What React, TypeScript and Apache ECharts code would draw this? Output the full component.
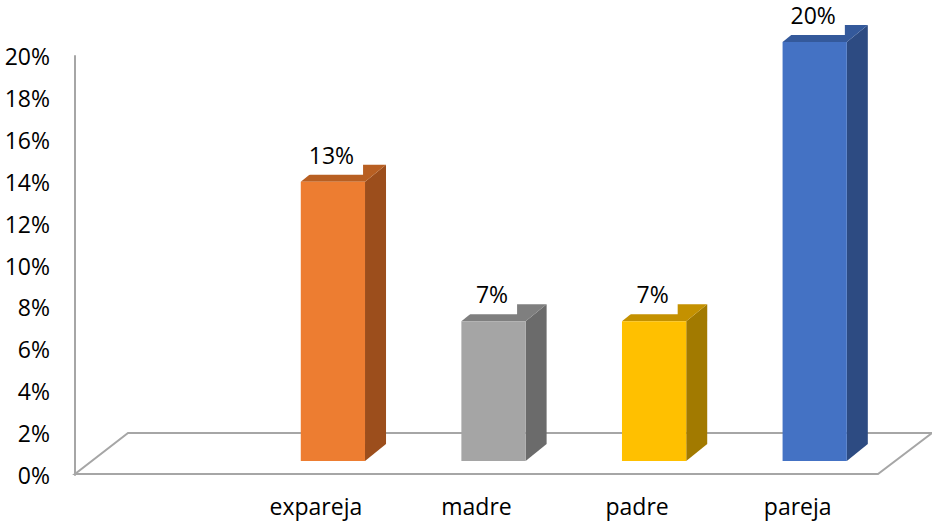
import React, { useEffect, useRef } from "react";
import * as echarts from "echarts";

// ---- data ----
const categories: string[] = ["", "expareja", "madre", "padre", "pareja"];
const values: (number | null)[] = [null, 0.1333, 0.0667, 0.0667, 0.2];
const valueLabels: string[] = ["", "13%", "7%", "7%", "20%"];
const yMin = 0;
const yMax = 0.2;
const yInterval = 0.02;

// ---- styles ----
const frontColors = ["#ED7D31", "#ED7D31", "#A5A5A5", "#FFC000", "#4472C4"];
const topColors = ["#B85F22", "#B85F22", "#7F7F7F", "#C49100", "#34599B"];
const sideColors = ["#9C4E1C", "#9C4E1C", "#6B6B6B", "#A27A00", "#2D4B82"];
const FONT = "'Open Sans', 'Liberation Sans', sans-serif";
const AXIS_GREY = "#A6A6A6";

const W = 932;
const H = 525;
const GRID = { left: 75, right: 54, top: 56, bottom: 50 };
// 3D projection offsets (pixels)
const FLOOR_DX = 54;
const FLOOR_DY = 41;
const FRONT_SHIFT_X = 17;
const FRONT_SHIFT_Y = 14;
const DEPTH_X = 21;
const DEPTH_Y = 17;

export default function App() {
  const ref = useRef<HTMLDivElement>(null);

  useEffect(() => {
    document.body.style.margin = "0";
    if (!ref.current) return;
    const chart = echarts.init(ref.current, undefined, { renderer: "svg" });

    const x0 = GRID.left;
    const x1 = W - GRID.right;
    const y0 = H - GRID.bottom - 1;

    const option: any = {
      animation: false,
      backgroundColor: "#ffffff",
      grid: { ...GRID, containLabel: false },
      xAxis: {
        type: "category",
        data: categories,
        boundaryGap: true,
        axisLine: { show: false },
        axisTick: { show: false },
        axisLabel: {
          margin: 19,
          fontFamily: FONT,
          fontSize: 23,
          color: "#000",
          interval: 0,
        },
      },
      yAxis: {
        type: "value",
        min: yMin,
        max: yMax,
        interval: yInterval,
        axisLine: { show: true, lineStyle: { color: AXIS_GREY, width: 2 } },
        axisTick: { show: false },
        splitLine: { show: false },
        axisLabel: {
          margin: 25,
          fontFamily: FONT,
          fontSize: 23,
          color: "#000",
          formatter: (v: number) => Math.round(v * 100) + "%",
        },
      },
      graphic: [
        {
          type: "polygon",
          z: 0,
          shape: {
            points: [
              [x0, y0],
              [x1, y0],
              [x1 + FLOOR_DX, y0 - FLOOR_DY],
              [x0 + FLOOR_DX - 1, y0 - FLOOR_DY],
            ],
          },
          style: { fill: "none", stroke: AXIS_GREY, lineWidth: 2 },
        },
      ],
      series: [
        {
          type: "custom",
          z: 5,
          data: categories.map((c, i) => [i, values[i]]),
          renderItem: (params: any, api: any) => {
            const v = api.value(1);
            const idx = params.dataIndex;
            if (v == null || isNaN(v)) return null;
            const base = api.coord([api.value(0), 0]);
            const top = api.coord([api.value(0), v]);
            const band = api.size([1, 0])[0];
            const w = band * 0.4;
            const cx = base[0] + FRONT_SHIFT_X;
            const xl = cx - w / 2;
            const xr = cx + w / 2;
            const yb = base[1] - FRONT_SHIFT_Y;
            const yt = top[1] - FRONT_SHIFT_Y;
            return {
              type: "group",
              children: [
                {
                  type: "polygon",
                  shape: {
                    points: [
                      [xr, yb],
                      [xr + DEPTH_X, yb - DEPTH_Y],
                      [xr + DEPTH_X, yt - DEPTH_Y],
                      [xr, yt],
                    ],
                  },
                  style: { fill: sideColors[idx] },
                },
                {
                  type: "polygon",
                  shape: {
                    points: [
                      [xl, yt],
                      [xl + DEPTH_X, yt - DEPTH_Y],
                      [xr + DEPTH_X, yt - DEPTH_Y],
                      [xr, yt],
                    ],
                  },
                  style: { fill: topColors[idx] },
                },
                {
                  type: "rect",
                  shape: { x: xl, y: yt, width: w, height: yb - yt },
                  style: { fill: frontColors[idx] },
                },
                {
                  type: "text",
                  x: cx - 1.5,
                  y: yt - 27,
                  style: {
                    text: valueLabels[idx],
                    align: "center",
                    verticalAlign: "middle",
                    fontFamily: FONT,
                    fontSize: 23,
                    lineHeight: 22,
                    fill: "#000",
                    backgroundColor: "#ffffff",
                    padding: [9, 9],
                  },
                },
              ],
            };
          },
        },
      ],
    };

    chart.setOption(option);
    return () => chart.dispose();
  }, []);

  return <div ref={ref} style={{ width: W, height: H }} />;
}
